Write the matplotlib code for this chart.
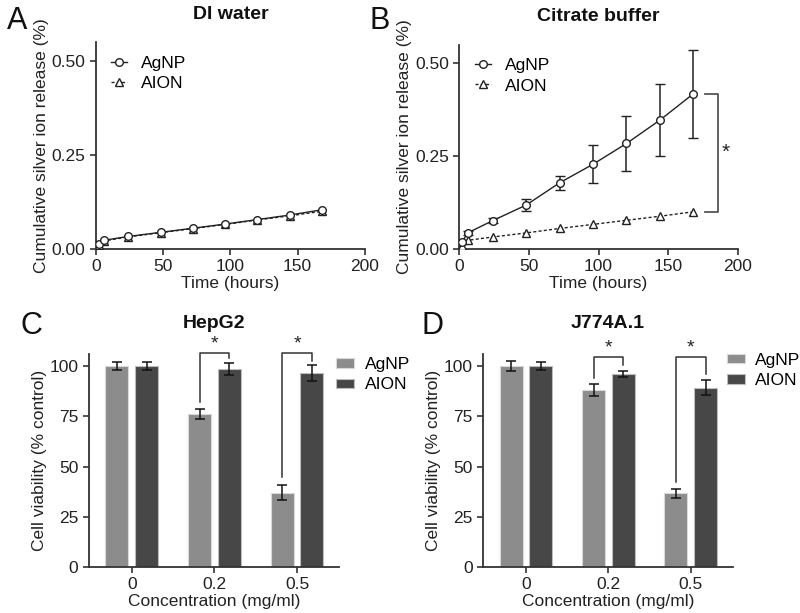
import matplotlib
matplotlib.use("Agg")
import matplotlib.pyplot as plt
import numpy as np

plt.rcParams['font.family'] = ['Liberation Sans', 'DejaVu Sans']

# ---- data ----
time_h = [2, 6, 24, 48, 72, 96, 120, 144, 168]
di_agnp = [0.012, 0.023, 0.033, 0.044, 0.055, 0.066, 0.078, 0.090, 0.104]
di_aion = [0.010, 0.021, 0.032, 0.043, 0.054, 0.065, 0.077, 0.088, 0.100]
cit_agnp = [0.018, 0.043, 0.076, 0.118, 0.178, 0.228, 0.284, 0.347, 0.418]
cit_agnp_err = [0.004, 0.005, 0.006, 0.016, 0.019, 0.051, 0.075, 0.097, 0.118]
cit_aion = [0.009, 0.023, 0.032, 0.043, 0.055, 0.066, 0.077, 0.088, 0.100]

conc_labels = ['0', '0.2', '0.5']
hep_agnp = [100, 76, 37]
hep_agnp_err = [2, 2.5, 3.8]
hep_aion = [100, 98.7, 96.6]
hep_aion_err = [2, 3, 4]
j774_agnp = [100, 88, 36.7]
j774_agnp_err = [2.5, 3, 2.3]
j774_aion = [100, 96.2, 89.3]
j774_aion_err = [2, 1.4, 3.6]

C_AG = '#8c8c8c'
C_AI = '#474747'
AXC = '#333333'

fig = plt.figure(figsize=(8, 6.13), dpi=100)

def style(ax):
    for s in ['top', 'right']:
        ax.spines[s].set_visible(False)
    for s in ['left', 'bottom']:
        ax.spines[s].set_color(AXC)
        ax.spines[s].set_linewidth(1.3)
    ax.tick_params(colors=AXC, labelcolor='#222222', labelsize=12.5, width=1.2, length=4)

def line_panel(rect, title, ag, ai, ag_err=None, leg_x=0.055):
    ax = fig.add_axes(rect)
    style(ax)
    h1 = ax.errorbar(time_h, ag, yerr=ag_err, color='#222222', lw=1.0, marker='o',
                     ms=5.5, mfc='white', mec='#222222', mew=1.0, capsize=3.5,
                     elinewidth=1.1, capthick=1.1, zorder=3)
    h2, = ax.plot(time_h, ai, color='#222222', lw=1.0, ls=(0, (2.2, 1.6)), marker='^',
                  ms=5.5, mfc='white', mec='#222222', mew=1.0, zorder=3)
    ax.set_xlim(0, 200)
    ax.set_ylim(0, 0.55)
    ax.set_xticks([0, 50, 100, 150, 200])
    ax.set_yticks([0, 0.25, 0.5])
    ax.set_yticklabels(['0.00', '0.25', '0.50'])
    ax.set_xlabel('Time (hours)', fontsize=12.5, labelpad=1, color='#222222')
    ax.set_ylabel('Cumulative silver ion release (%)', fontsize=12.5, labelpad=2, color='#222222')
    ax.set_title(title, fontsize=14, fontweight='bold', pad=17, color='#111111')
    ax.legend([h1.lines[0], h2], ['AgNP', 'AION'], loc='upper left',
              bbox_to_anchor=(leg_x, 0.935), frameon=False,
              fontsize=12.5, handlelength=0.95, handletextpad=0.8, labelspacing=0.3,
              borderaxespad=0, borderpad=0)
    return ax

axA = line_panel([0.12, 0.594, 0.336, 0.337], 'DI water', di_agnp, di_aion)
axB = line_panel([0.574, 0.594, 0.3485, 0.333], 'Citrate buffer', cit_agnp, cit_aion, cit_agnp_err)

# bracket in B
yt, yb = cit_agnp[-1], cit_aion[-1]
axB.plot([176.5, 185.5, 185.5, 176.5], [yt, yt, yb, yb], color='#555555', lw=1.3, clip_on=False)
axB.text(191.5, (yt + yb) / 2, '*', fontsize=15, ha='center', va='center', color='#222222')

def bar_panel(rect, title, ag, age, ai, aie, brackets, leg_anchor):
    ax = fig.add_axes(rect)
    style(ax)
    x = np.arange(len(conc_labels))
    off, w = 0.18, 0.28
    b1 = ax.bar(x - off, ag, w, color=C_AG, edgecolor='#d8d8d8', lw=0.8, zorder=2)
    b2 = ax.bar(x + off, ai, w, color=C_AI, edgecolor='#bdbdbd', lw=0.8, zorder=2)
    ax.errorbar(x - off, ag, yerr=age, fmt='none', ecolor='#111111', elinewidth=1.1,
                capsize=3.5, capthick=1.1, zorder=3)
    ax.errorbar(x + off, ai, yerr=aie, fmt='none', ecolor='#111111', elinewidth=1.1,
                capsize=3.5, capthick=1.1, zorder=3)
    ax.set_xlim(-0.52, 2.51)
    ax.set_ylim(0, 106)
    ax.set_xticks(x)
    ax.set_xticklabels(conc_labels)
    ax.set_yticks([0, 25, 50, 75, 100])
    ax.set_xlabel('Concentration (mg/ml)', fontsize=12.5, labelpad=1, color='#222222')
    ax.set_ylabel('Cell viability (% control)', fontsize=12.5, labelpad=2, color='#222222')
    ax.set_title(title, fontsize=14, fontweight='bold', pad=19, color='#111111')
    for gi, ylo, yhi, ytop in brackets:
        ax.plot([gi - off, gi - off, gi + off, gi + off], [ylo, ytop, ytop, yhi],
                color='#333333', lw=1.1, clip_on=False, zorder=4)
        ax.text(gi, ytop + 0.3, '*', fontsize=14, ha='center', va='bottom', color='#222222')
    ax.legend([b1, b2], ['AgNP', 'AION'], loc='upper left', bbox_to_anchor=leg_anchor,
              frameon=False, fontsize=12.5, handlelength=1.05, handleheight=0.45,
              handletextpad=0.6, labelspacing=0.3, borderaxespad=0, borderpad=0)
    return ax

axC = bar_panel([0.111, 0.075, 0.313, 0.3475], 'HepG2', hep_agnp, hep_agnp_err, hep_aion, hep_aion_err,
                [(1, 82, 104, 106.5), (2, 45, 102.5, 106.5)], (0.988, 0.985))
axD = bar_panel([0.604, 0.075, 0.312, 0.3475], 'J774A.1', j774_agnp, j774_agnp_err, j774_aion, j774_aion_err,
                [(1, 94, 100.5, 104.5), (2, 42.5, 96, 104.5)], (0.976, 1.005))

for lab, xp, yp in [('A', 7, 6), ('B', 370, 6), ('C', 21, 311), ('D', 421, 311)]:
    fig.text(xp / 800, 1 - yp / 613, lab, fontsize=22, ha='left', va='top', color='#111111')

fig.savefig('out.png', dpi=100)
